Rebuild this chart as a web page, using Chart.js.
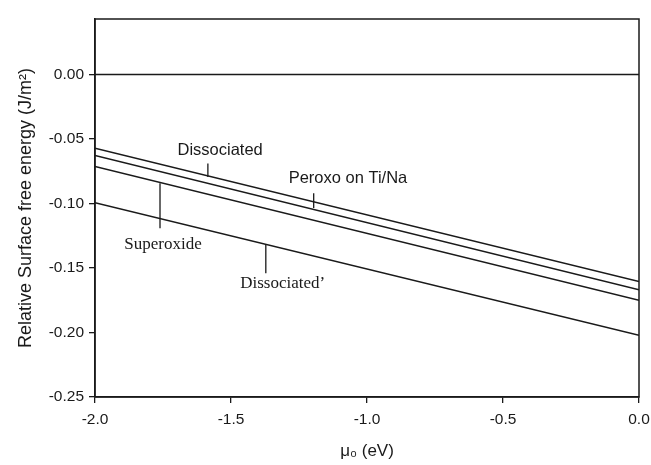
<!DOCTYPE html>
<html>
<head>
<meta charset="utf-8">
<script src="https://cdn.jsdelivr.net/npm/chart.js@4"></script>
<style>
  html, body { margin: 0; padding: 0; background: #fff; }
  #wrap { width: 651px; height: 465px; }
</style>
</head>
<body>
<div id="wrap"><canvas id="chart"></canvas></div>
<script>
// Datos
const muValues = [-2.0, 0.0];
const zeroLine = [0.0, 0.0];
const dissociated = [-0.0571, -0.1604];
const peroxo = [-0.0628, -0.1668];
const superoxide = [-0.0713, -0.1751];
const dissociatedPrime = [-0.0994, -0.2022];

const yTicks = [-0.25, -0.20, -0.15, -0.10, -0.05, 0.00];
const xTicks = [-2.0, -1.5, -1.0, -0.5, 0.0];

// Etiquetas: texto, posicion (datos), linea guia (x, y1, y2)
const labelNames = ['Dissociated', 'Peroxo on Ti/Na', 'Superoxide', 'Dissociated\u2019'];
const labelX = [-1.54, -1.07, -1.75, -1.31];
const labelY = [-0.0588, -0.0805, -0.1316, -0.1618];
const labelSerif = [false, false, true, true];
const leaderX = [-1.585, -1.196, -1.761, -1.372];
const leaderTop = [-0.069, -0.092, -0.0844, -0.1316];
const leaderBottom = [-0.0795, -0.1035, -0.1192, -0.154];

const toPoints = ys => muValues.map((x, i) => ({ x: x, y: ys[i] }));

const lineStyle = { borderColor: '#1a1a1a', borderWidth: 1.5, pointRadius: 0, fill: false };

const datasets = [
  { label: 'zero', data: toPoints(zeroLine), ...lineStyle },
  { label: 'Dissociated', data: toPoints(dissociated), ...lineStyle },
  { label: 'Peroxo on Ti/Na', data: toPoints(peroxo), ...lineStyle },
  { label: 'Superoxide', data: toPoints(superoxide), ...lineStyle },
  { label: 'Dissociated\u2019', data: toPoints(dissociatedPrime), ...lineStyle },
];
leaderX.forEach((x, i) => {
  datasets.push({
    label: 'leader' + i,
    data: [{ x: x, y: leaderTop[i] }, { x: x, y: leaderBottom[i] }],
    borderColor: '#1a1a1a', borderWidth: 1.3, pointRadius: 0, fill: false,
  });
});

// Marco y etiquetas
const framePlugin = {
  id: 'frame',
  afterDraw(chart) {
    const { ctx, chartArea: a, scales } = chart;
    ctx.save();
    ctx.strokeStyle = '#1a1a1a';
    ctx.lineWidth = 1.5;
    ctx.strokeRect(a.left, a.top, a.right - a.left, a.bottom - a.top);
    ctx.fillStyle = '#1a1a1a';
    ctx.textAlign = 'center';
    ctx.textBaseline = 'middle';
    labelNames.forEach((t, i) => {
      ctx.font = labelSerif[i] ? '17px "Liberation Serif"' : '16.5px "Liberation Sans"';
      ctx.fillText(t, scales.x.getPixelForValue(labelX[i]), scales.y.getPixelForValue(labelY[i]));
    });
    ctx.restore();
  }
};

new Chart(document.getElementById('chart').getContext('2d'), {
  type: 'line',
  data: { datasets: datasets },
  options: {
    responsive: true,
    maintainAspectRatio: false,
    animation: false,
    layout: { padding: { left: 0, right: 12, top: 19, bottom: 0 } },
    plugins: { legend: { display: false }, tooltip: { enabled: false } },
    scales: {
      x: {
        type: 'linear',
        min: -2.0,
        max: 0.0,
        afterBuildTicks: s => { s.ticks = xTicks.map(v => ({ value: v })); },
        afterFit: s => { s.height = 68; s.paddingRight = 0; s.paddingLeft = 0; },
        grid: { display: true, drawOnChartArea: false, drawTicks: true, tickLength: 6, color: '#1a1a1a', lineWidth: 1.3 },
        border: { display: true, color: '#1a1a1a', width: 1.5 },
        ticks: {
          padding: 7,
          color: '#1a1a1a',
          font: { family: '"Liberation Sans", Arial', size: 15.5 },
          callback: v => v.toFixed(1),
        },
        title: {
          display: true,
          text: '\u03bc\u2080 (eV)',
          color: '#1a1a1a',
          font: { family: '"Liberation Sans", Arial', size: 17 },
          padding: { top: 0, bottom: 3 },
        },
      },
      y: {
        type: 'linear',
        min: -0.25,
        max: 0.043,
        afterBuildTicks: s => { s.ticks = yTicks.map(v => ({ value: v })); },
        afterFit: s => { s.width = 95; },
        grid: { display: true, drawOnChartArea: false, drawTicks: true, tickLength: 6, color: '#1a1a1a', lineWidth: 1.3 },
        border: { display: true, color: '#1a1a1a', width: 1.5 },
        ticks: {
          padding: 5,
          color: '#1a1a1a',
          font: { family: '"Liberation Sans", Arial', size: 15.5 },
          callback: v => v.toFixed(2),
        },
        title: {
          display: true,
          text: 'Relative Surface free energy (J/m\u00b2)',
          color: '#1a1a1a',
          font: { family: '"Liberation Sans", Arial', size: 18 },
          padding: { top: 15, bottom: 0 },
        },
      },
    },
  },
  plugins: [framePlugin],
});
</script>
</body>
</html>
